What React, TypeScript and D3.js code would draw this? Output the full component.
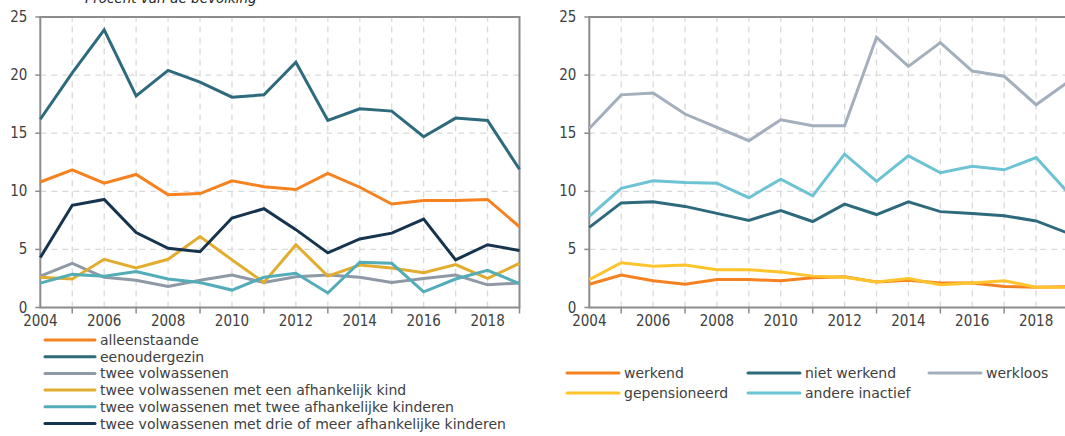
import React from "react";
import * as d3 from "d3";

const years = [2004, 2005, 2006, 2007, 2008, 2009, 2010, 2011, 2012, 2013, 2014, 2015, 2016, 2017, 2018, 2019];
const yTicks = [0, 5, 10, 15, 20, 25];
const xLabelYears = [2004, 2006, 2008, 2010, 2012, 2014, 2016, 2018];

const leftNames = [
  "alleenstaande",
  "eenoudergezin",
  "twee volwassenen",
  "twee volwassenen met een afhankelijk kind",
  "twee volwassenen met twee afhankelijke kinderen",
  "twee volwassenen met drie of meer afhankelijke kinderen",
];
const leftColors = ["#f5821f", "#2d6a7c", "#8f99a6", "#e2ad2e", "#52adb9", "#17344f"];
const alleenstaande = [10.8, 11.85, 10.7, 11.45, 9.7, 9.8, 10.9, 10.4, 10.15, 11.55, 10.35, 8.9, 9.2, 9.2, 9.3, 6.95];
const eenoudergezin = [16.2, 20.2, 23.9, 18.2, 20.4, 19.4, 18.1, 18.3, 21.1, 16.1, 17.1, 16.9, 14.7, 16.3, 16.1, 11.9];
const tweeVolwassenen = [2.7, 3.8, 2.6, 2.35, 1.8, 2.35, 2.8, 2.15, 2.65, 2.8, 2.6, 2.15, 2.5, 2.8, 1.95, 2.1];
const eenKind = [2.6, 2.45, 4.15, 3.4, 4.15, 6.1, 4.1, 2.15, 5.4, 2.7, 3.65, 3.4, 3.0, 3.7, 2.5, 3.8];
const tweeKinderen = [2.1, 2.85, 2.7, 3.1, 2.45, 2.15, 1.5, 2.6, 2.95, 1.25, 3.9, 3.8, 1.35, 2.45, 3.2, 2.05];
const drieKinderen = [4.3, 8.8, 9.3, 6.45, 5.1, 4.8, 7.7, 8.5, 6.7, 4.7, 5.9, 6.4, 7.6, 4.1, 5.4, 4.9];
const leftSeries = [alleenstaande, eenoudergezin, tweeVolwassenen, eenKind, tweeKinderen, drieKinderen];

const rightNames = ["werkend", "niet werkend", "werkloos", "gepensioneerd", "andere inactief"];
const rightColors = ["#f58220", "#2d6a7c", "#a3afbc", "#ffc42c", "#6cc3d3"];
const werkend = [2.0, 2.8, 2.3, 2.0, 2.4, 2.4, 2.3, 2.55, 2.65, 2.2, 2.35, 2.1, 2.1, 1.8, 1.75, 1.8];
const nietWerkend = [6.9, 9.0, 9.1, 8.7, 8.1, 7.5, 8.35, 7.4, 8.9, 8.0, 9.1, 8.25, 8.1, 7.9, 7.45, 6.4];
const werkloos = [15.4, 18.3, 18.45, 16.65, 15.5, 14.35, 16.15, 15.65, 15.65, 23.25, 20.75, 22.8, 20.35, 19.9, 17.45, 19.4];
const gepensioneerd = [2.4, 3.85, 3.55, 3.65, 3.25, 3.25, 3.05, 2.7, 2.6, 2.2, 2.5, 1.95, 2.1, 2.3, 1.75, 1.75];
const andereInactief = [7.85, 10.25, 10.9, 10.75, 10.7, 9.45, 11.05, 9.6, 13.2, 10.85, 13.05, 11.6, 12.15, 11.85, 12.9, 9.9];
const rightSeries = [werkend, nietWerkend, werkloos, gepensioneerd, andereInactief];

const FONT = "'DejaVu Sans Condensed', 'DejaVu Sans', sans-serif";
const LFONT = "'DejaVu Sans', sans-serif";
const TEXT = "#404040";
const AXIS = "#8c8c8c";
const GRID = "#d9d9d9";

function Panel({ x0, x1, series, colors }: { x0: number; x1: number; series: number[][]; colors: string[] }) {
  const x = d3.scaleLinear().domain([2004, 2019]).range([x0, x1]);
  const y = d3.scaleLinear().domain([0, 25]).range([307.5, 17]);
  const line = d3
    .line<number>()
    .x((_, i) => x(years[i]))
    .y((d) => y(d));
  return (
    <g>
      {years.slice(1).map((yr) => (
        <line key={"vg" + yr} x1={x(yr)} x2={x(yr)} y1={y(0)} y2={y(25)} stroke={GRID} strokeWidth={1.3} strokeDasharray="6,5" />
      ))}
      {yTicks.slice(1, -1).map((t) => (
        <line key={"hg" + t} x1={x(2004)} x2={x(2019)} y1={y(t)} y2={y(t)} stroke={GRID} strokeWidth={1.3} strokeDasharray="6,5" />
      ))}
      <rect x={x(2004)} y={y(25)} width={x(2019) - x(2004)} height={y(0) - y(25)} fill="none" stroke={AXIS} strokeWidth={2} />
      {yTicks.map((t) => (
        <g key={"yt" + t}>
          <line x1={x(2004) - 5} x2={x(2004)} y1={y(t)} y2={y(t)} stroke={AXIS} strokeWidth={1.5} />
          <text x={x(2004) - 13} y={y(t) + 5} textAnchor="end" fontFamily={FONT} fontSize={15} fill={TEXT}>
            {t}
          </text>
        </g>
      ))}
      {years.filter((yr) => yr % 2 === 1).map((yr) => (
        <line key={"xt" + yr} x1={x(yr)} x2={x(yr)} y1={y(0)} y2={y(0) + 6} stroke={AXIS} strokeWidth={1.5} />
      ))}
      {xLabelYears.map((yr) => (
        <text key={"xl" + yr} x={x(yr)} y={326} textAnchor="middle" fontFamily={FONT} fontSize={15} fill={TEXT}>
          {yr}
        </text>
      ))}
      {series.map((s, i) => (
        <path key={"s" + i} d={line(s) || ""} fill="none" stroke={colors[i]} strokeWidth={3} strokeLinejoin="miter" />
      ))}
    </g>
  );
}

export default function App() {
  return (
    <svg width={1065} height={436} style={{ position: "absolute", left: 0, top: 0, background: "#fff" }}>
      <text x={85} y={3} fontFamily={LFONT} fontSize={13.5} fontStyle="italic" fill="#262626">
        Procent van de bevolking
      </text>
      <Panel x0={40.3} x1={519.5} series={leftSeries} colors={leftColors} />
      <Panel x0={589.3} x1={1068} series={rightSeries} colors={rightColors} />
      {leftNames.map((n, i) => (
        <g key={"ll" + i}>
          <line x1={45} x2={95} y1={340 + i * 16.7} y2={340 + i * 16.7} stroke={leftColors[i]} strokeWidth={3} strokeLinecap="round" />
          <text x={100} y={340 + i * 16.7 + 5} fontFamily={LFONT} fontSize={14} fill={TEXT}>
            {n}
          </text>
        </g>
      ))}
      {rightNames.map((n, i) => {
        const col = i % 3;
        const row = Math.floor(i / 3);
        const lx = 567 + col * 181;
        const ly = 373 + row * 20;
        return (
          <g key={"rl" + i}>
            <line x1={lx} x2={lx + 52} y1={ly} y2={ly} stroke={rightColors[i]} strokeWidth={3} strokeLinecap="round" />
            <text x={lx + 57} y={ly + 5} fontFamily={LFONT} fontSize={14} fill={TEXT}>
              {n}
            </text>
          </g>
        );
      })}
    </svg>
  );
}
